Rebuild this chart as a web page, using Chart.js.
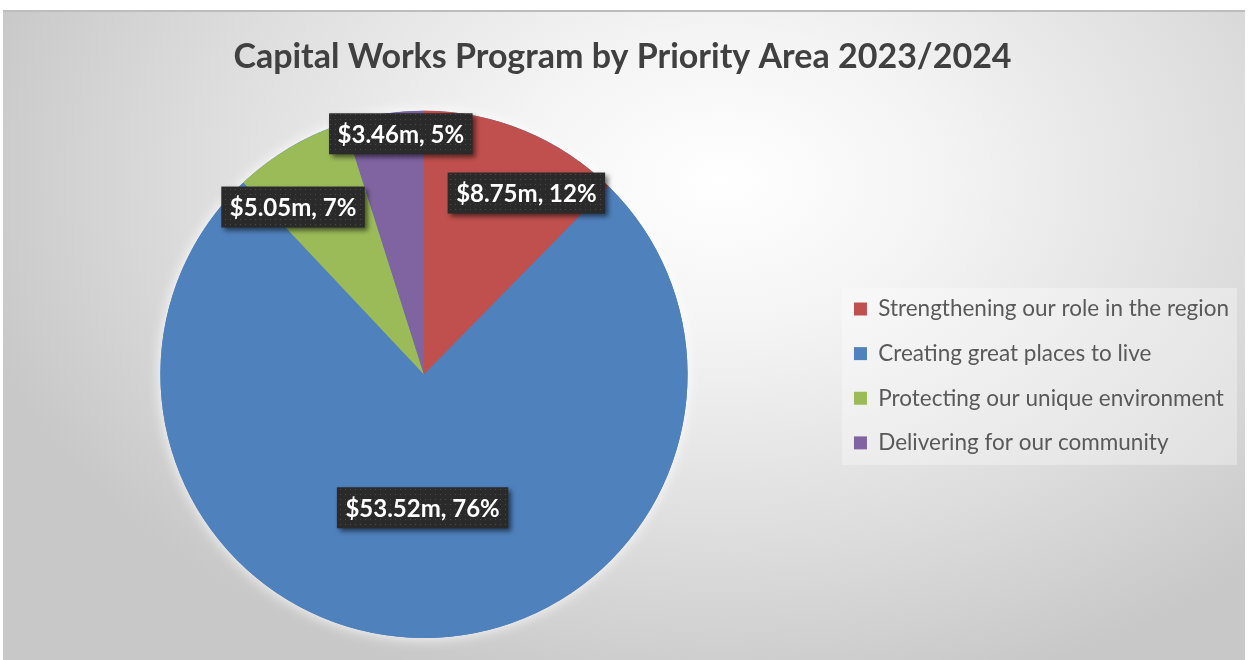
<!DOCTYPE html>
<html>
<head>
<meta charset="utf-8">
<title>Capital Works Program by Priority Area 2023/2024</title>
<script src="https://cdn.jsdelivr.net/npm/chart.js@4.4.0/dist/chart.umd.min.js"></script>
<style>
  html, body { margin: 0; padding: 0; background: #ffffff; }
  #frame {
    position: absolute; left: 3px; top: 10px; width: 1242px; height: 650px;
    border-top: 2px solid #bdbdbd;
    box-sizing: border-box;
    background: radial-gradient(ellipse 62% 82% at 58% 26%, #ffffff 0%, #f4f4f4 28%, #dddddd 68%, #c8c8c8 100%);
  }
  canvas { display: block; }
</style>
</head>
<body>
<div id="frame"><canvas id="myChart" width="1242" height="648"></canvas></div>
<script>
const priorityAreas = [
  'Strengthening our role in the region',
  'Creating great places to live',
  'Protecting our unique environment',
  'Delivering for our community'
];
const spendMillions = [8.75, 53.52, 5.05, 3.46];
const sharePercent = [12, 76, 7, 5];
const sliceColours = ['#C0504D', '#4F81BD', '#9BBB59', '#8064A2'];

// where each value box sits: fraction of the radius, and a nudge off the mid angle (degrees)
const labelRadius = [0.79, 0.506, 0.806, 0.917];
const labelTurn = [7.2, 0, -7.6, 3.3];

const ctx = document.getElementById('myChart');

function dottedFill(c) {
  const tile = document.createElement('canvas');
  tile.width = 5; tile.height = 5;
  const t = tile.getContext('2d');
  t.fillStyle = '#2a2a2a';
  t.fillRect(0, 0, 5, 5);
  t.fillStyle = '#4a4a4a';
  t.fillRect(2, 2, 1, 1);
  return c.createPattern(tile, 'repeat');
}

// soft light halo behind the pie
const pieGlow = {
  id: 'pieGlow',
  beforeDatasetsDraw(chart) {
    const arc = chart.getDatasetMeta(0).data[0];
    if (!arc) return;
    const c = chart.ctx;
    c.save();
    c.shadowColor = 'rgba(255,255,255,0.95)';
    c.shadowBlur = 14;
    c.fillStyle = sliceColours[1];
    c.beginPath();
    c.arc(arc.x, arc.y, arc.outerRadius, 0, Math.PI * 2);
    c.fill();
    c.restore();
  }
};

// translucent panel behind the legend entries
const legendPanel = {
  id: 'legendPanel',
  beforeDraw(chart) {
    const lg = chart.legend;
    const boxes = lg.legendHitBoxes;
    if (!boxes || !boxes.length) return;
    const first = boxes[0], last = boxes[boxes.length - 1];
    const mid = 11.25;
    const top = first.top + mid - 21;
    const bottom = last.top + mid + 22;
    const c = chart.ctx;
    c.save();
    c.fillStyle = 'rgba(255,255,255,0.32)';
    c.fillRect(lg.left, top, lg.right - 2 - lg.left, bottom - top);
    c.restore();
  }
};

// dark value boxes on the slices
const valueBoxes = {
  id: 'valueBoxes',
  afterDatasetsDraw(chart) {
    const c = chart.ctx;
    const fill = dottedFill(c);
    const arcs = chart.getDatasetMeta(0).data;
    c.save();
    c.font = 'bold 24px Lato';
    c.textAlign = 'center';
    c.textBaseline = 'middle';
    arcs.forEach((arc, i) => {
      const text = '$' + spendMillions[i].toFixed(2) + 'm, ' + sharePercent[i] + '%';
      const mid = (arc.startAngle + arc.endAngle) / 2 + labelTurn[i] * Math.PI / 180;
      const r = arc.outerRadius * labelRadius[i];
      const x = arc.x + Math.cos(mid) * r;
      const y = arc.y + Math.sin(mid) * r;
      const w = c.measureText(text).width + 17;
      const h = 41;
      c.save();
      c.shadowColor = 'rgba(0,0,0,0.55)';
      c.shadowBlur = 5;
      c.shadowOffsetX = 3;
      c.shadowOffsetY = 3;
      c.fillStyle = fill;
      c.fillRect(x - w / 2, y - h / 2, w, h);
      c.restore();
      c.fillStyle = '#ffffff';
      c.fillText(text, x, y + 1);
    });
    c.restore();
  }
};

new Chart(ctx, {
  type: 'pie',
  data: {
    labels: priorityAreas,
    datasets: [{
      data: spendMillions,
      backgroundColor: sliceColours,
      borderWidth: 0
    }]
  },
  options: {
    responsive: false,
    animation: false,
    events: [],
    layout: { padding: { left: 3, right: 6, top: 0, bottom: 22 } },
    plugins: {
      title: {
        display: true,
        text: 'Capital Works Program by Priority Area 2023/2024',
        color: '#404040',
        font: { family: 'Lato', size: 34, weight: 'bold', lineHeight: 1.2 },
        padding: { top: 24.6, bottom: 33.4 }
      },
      legend: {
        position: 'right',
        align: 'center',
        title: {
          display: true,
          text: '',
          font: { size: 10, lineHeight: 1.2 },
          padding: { top: 100, bottom: 0 }
        },
        labels: {
          boxWidth: 13,
          boxHeight: 13,
          padding: 12,
          color: '#595959',
          font: { family: 'Lato', size: 22.5, lineHeight: 1.45 },
          generateLabels(chart) {
            const items = Chart.overrides.pie.plugins.legend.labels.generateLabels(chart);
            return items.map(it => Object.assign(it, { text: [it.text], lineWidth: 0 }));
          }
        }
      },
      tooltip: { enabled: false }
    }
  },
  plugins: [pieGlow, legendPanel, valueBoxes]
});
</script>
</body>
</html>
